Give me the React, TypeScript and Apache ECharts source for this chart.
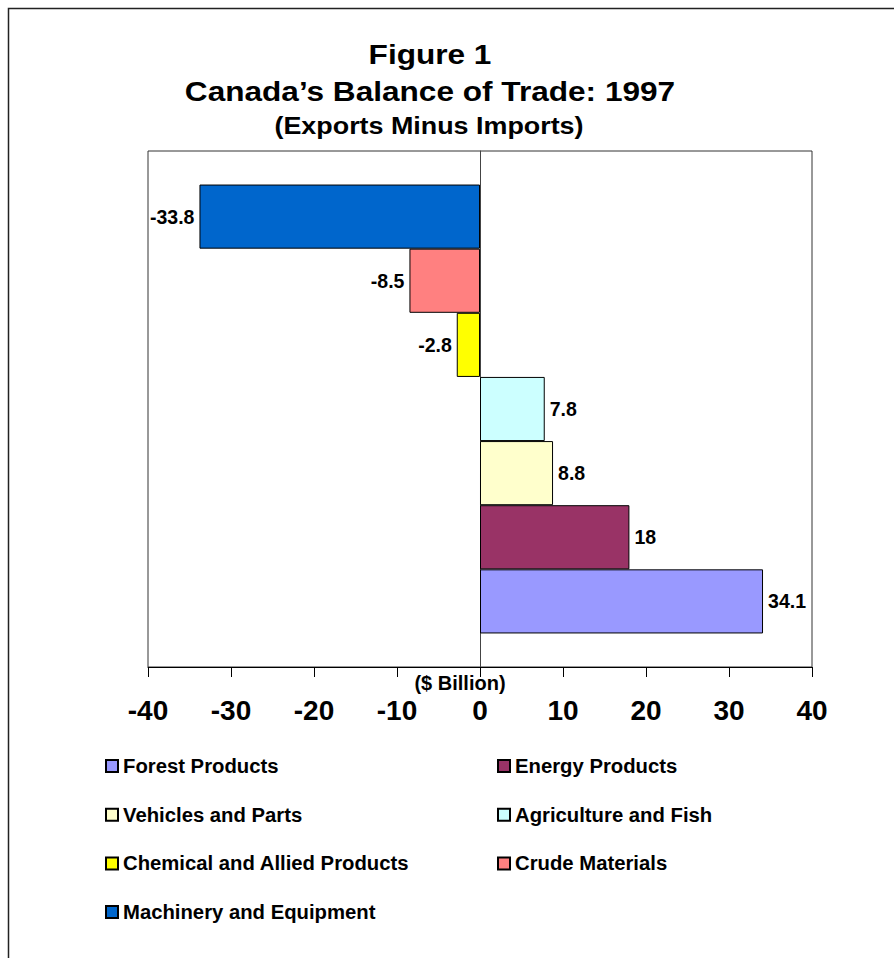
import React, { useEffect, useRef } from "react";
import * as echarts from "echarts";

// Listed top-to-bottom as drawn in the plot
const seriesNames = [
  "Machinery and Equipment",
  "Crude Materials",
  "Chemical and Allied Products",
  "Agriculture and Fish",
  "Vehicles and Parts",
  "Energy Products",
  "Forest Products",
];
const seriesValues = [-33.8, -8.5, -2.8, 7.8, 8.8, 18, 34.1];
const seriesColors = ["#0066CC", "#FF8080", "#FFFF00", "#CCFFFF", "#FFFFCC", "#993366", "#9999FF"];
const categories = [""];
const legendLeft = ["Forest Products", "Vehicles and Parts", "Chemical and Allied Products", "Machinery and Equipment"];
const legendRight = ["Energy Products", "Agriculture and Fish", "Crude Materials"];
const titleLines = ["Figure 1", "Canada\u2019s Balance of Trade: 1997", "(Exports Minus Imports)"];
const axisName = "($ Billion)";

const FONT = "Arial, 'Liberation Sans', Helvetica, sans-serif";

export default function App() {
  const ref = useRef<HTMLDivElement>(null);
  useEffect(() => {
    if (!ref.current) return;
    const chart = echarts.init(ref.current, undefined, { renderer: "svg" });
    const legendText = { fontFamily: FONT, fontWeight: "bold" as const, fontSize: 20.3, color: "#000", lineHeight: 20 };
    const legendBase = {
      orient: "vertical",
      top: 756,
      padding: 0,
      itemWidth: 12,
      itemHeight: 12,
      itemGap: 28.7,
      icon: "rect",
      textStyle: legendText,
      selectedMode: false,
    };
    chart.setOption({
      animation: false,
      backgroundColor: "#fff",
      graphic: [
        {
          type: "rect",
          shape: { x: 8.5, y: 8.5, width: 1000, height: 1100 },
          style: { fill: "none", stroke: "#222", lineWidth: 1.5 },
          silent: true,
        },
        {
          type: "text",
          x: 430,
          y: 54,
          scaleX: 1.17,
          style: { text: titleLines[0], font: `bold 27px ${FONT}`, fill: "#000", textAlign: "center", textVerticalAlign: "middle" },
        },
        {
          type: "text",
          x: 430,
          y: 91,
          scaleX: 1.17,
          style: { text: titleLines[1], font: `bold 27px ${FONT}`, fill: "#000", textAlign: "center", textVerticalAlign: "middle" },
        },
        {
          type: "text",
          x: 429,
          y: 126,
          scaleX: 1.12,
          style: { text: titleLines[2], font: `bold 24px ${FONT}`, fill: "#000", textAlign: "center", textVerticalAlign: "middle" },
        },
        {
          type: "text",
          x: 460,
          y: 683,
          style: { text: axisName, font: `bold 20px ${FONT}`, fill: "#000", textAlign: "center", textVerticalAlign: "middle" },
        },
      ],
      legend: [
        { ...legendBase, data: legendLeft, left: 105 },
        { ...legendBase, data: legendRight, left: 497 },
      ],
      grid: {
        left: 148,
        top: 151,
        width: 664,
        height: 516,
        show: true,
        borderColor: "#333",
        borderWidth: 1,
        backgroundColor: "transparent",
      },
      xAxis: {
        type: "value",
        min: -40,
        max: 40,
        interval: 10,
        axisLine: { show: true, lineStyle: { color: "#000", width: 1 } },
        axisTick: { show: true, length: 10, lineStyle: { color: "#000" } },
        axisLabel: { fontFamily: FONT, fontWeight: "bold", fontSize: 28, color: "#000", margin: 29 },
        splitLine: { show: false },
      },
      yAxis: {
        type: "category",
        data: categories,
        axisLine: { show: true, onZero: true, lineStyle: { color: "#444", width: 1 } },
        axisTick: { show: false },
        axisLabel: { show: false },
        splitLine: { show: false },
      },
      series: seriesNames.map((name, i) => ({
        name,
        type: "bar",
        data: [seriesValues[i]],
        barGap: "0%",
        barCategoryGap: "13%",
        itemStyle: { color: seriesColors[i], borderColor: "#000", borderWidth: 1 },
        label: {
          show: true,
          position: seriesValues[i] < 0 ? "left" : "right",
          distance: 5,
          fontFamily: FONT,
          fontWeight: "bold",
          fontSize: 19.5,
          color: "#000",
        },
      })),
    });
    return () => chart.dispose();
  }, []);
  return (
    <div
      ref={ref}
      style={{ position: "absolute", left: 0, top: 0, width: 894, height: 958 }}
    />
  );
}
